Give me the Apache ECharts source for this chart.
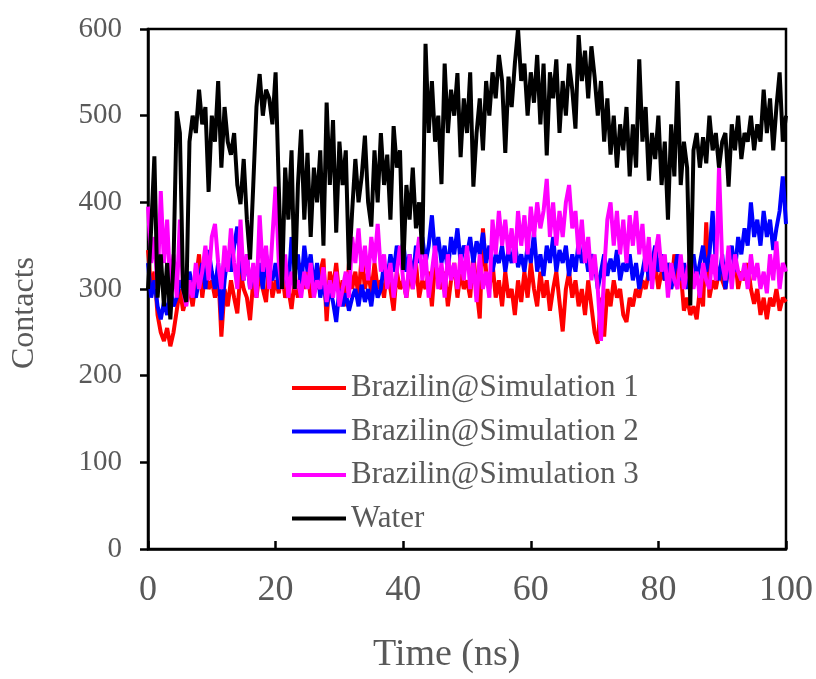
<!DOCTYPE html>
<html>
<head>
<meta charset="utf-8">
<script src="https://cdn.jsdelivr.net/npm/echarts@6/dist/echarts.min.js"></script>
<style>html,body{margin:0;padding:0;background:#fff;}#c{width:816px;height:679px;}</style>
</head>
<body>
<div id="c"></div>
<script>
const timeStep = 0.5; // ns between samples, t = 0 .. 100
const seriesNames = ['Brazilin@Simulation 1', 'Brazilin@Simulation 2', 'Brazilin@Simulation 3', 'Water'];
const xTicks = [0, 20, 40, 60, 80, 100];
const yTicks = [0, 100, 200, 300, 400, 500, 600];
const xTitle = 'Time (ns)';
const yTitle = 'Contacts';

const sim1 = [
345,300,320,270,250,240,255,234,250,275,
300,275,290,300,280,310,340,290,320,300,
310,290,320,245,300,280,310,290,272,320,
300,290,264,310,290,320,300,285,330,290,
310,295,320,290,300,277,310,290,330,300,
320,290,310,300,320,335,263,320,300,330,
290,310,280,330,300,320,290,340,300,320,
295,330,300,310,290,325,300,275,320,300,
310,290,320,300,330,290,310,300,320,280,
330,310,300,320,280,310,330,290,320,300,
310,290,340,300,266,370,320,300,330,290,
310,280,320,290,300,270,310,285,320,290,
330,300,280,320,290,310,275,300,320,285,
251,300,320,290,310,280,300,270,310,280,
250,237,290,245,300,280,310,290,300,270,
262,290,280,300,290,310,300,320,310,330,
300,320,310,330,300,340,310,320,275,290,
270,280,265,300,280,377,290,310,300,320,
310,300,330,310,340,300,320,310,330,300,
283,300,270,290,265,290,280,300,275,290,
285];

const sim2 = [
330,290,310,280,265,285,270,300,280,290,
310,300,290,320,300,290,310,330,300,345,
320,300,330,264,310,340,320,350,372,330,
310,340,300,320,310,330,300,340,320,310,
330,300,340,320,300,360,320,340,300,350,
320,340,300,330,290,310,280,300,285,262,
300,280,295,275,290,300,280,305,285,300,
280,310,290,300,330,310,340,320,350,330,
355,320,340,310,350,330,360,330,350,385,
340,360,330,350,320,360,340,370,330,350,
340,360,330,355,340,365,330,350,320,340,
330,350,320,345,330,355,325,340,320,350,
330,365,320,340,315,350,330,360,320,345,
330,350,315,340,320,355,330,345,320,340,
330,300,320,340,315,335,320,345,310,330,
320,340,310,330,300,320,340,310,330,350,
320,340,310,330,300,320,340,310,330,300,
320,340,310,330,350,320,340,390,330,310,
340,300,330,350,320,360,340,370,350,400,
360,380,350,390,360,380,345,370,390,430,
375];

const sim3 = [
395,330,360,300,413,330,380,300,340,290,
380,300,280,310,290,330,300,320,350,310,
360,375,330,300,350,320,370,330,300,380,
310,340,300,330,290,385,320,350,300,360,
418,330,300,340,290,320,300,310,290,320,
300,330,290,310,300,325,285,310,290,320,
280,300,320,290,360,330,370,320,350,310,
360,330,375,320,340,300,330,290,320,350,
310,290,340,300,330,360,310,340,290,320,
350,300,330,290,340,310,330,300,340,310,
350,300,330,285,340,300,320,290,380,340,
390,350,380,340,370,330,390,350,385,340,
395,360,400,370,390,427,360,400,350,390,
360,400,420,370,390,340,380,330,360,310,
340,300,240,320,380,400,350,390,340,380,
330,385,350,390,340,375,320,360,300,340,
363,320,340,290,330,310,300,340,300,320,
340,300,320,290,330,310,300,340,310,440,
330,310,350,300,340,320,310,330,300,340,
310,330,300,320,295,340,310,355,300,330,
320];

const water = [
300,370,453,290,340,280,330,265,330,505,
480,300,285,470,500,480,530,490,510,412,
500,470,540,440,510,470,455,480,420,398,
450,380,334,420,510,548,500,530,520,490,
550,418,300,440,380,460,300,420,484,380,
457,360,440,400,460,350,515,420,495,365,
470,420,460,322,390,450,400,430,477,400,
372,460,400,480,420,455,380,488,440,460,
322,420,380,440,370,400,340,583,480,540,
470,500,421,560,480,530,500,549,452,520,
480,550,418,480,520,460,540,500,550,520,
570,540,457,545,510,560,600,540,560,500,
550,515,570,490,560,454,550,520,565,480,
540,500,560,530,485,593,540,575,520,580,
545,500,540,470,520,455,500,440,490,460,
510,430,490,440,565,470,510,425,480,450,
500,420,470,380,490,430,540,420,470,440,
281,460,480,440,475,445,500,460,480,440,
470,480,418,490,460,500,450,480,470,500,
460,490,470,530,480,520,460,510,550,470,
500];

const colors = ['#ff0000', '#0000ff', '#ff00ff', '#000000'];
const FONT = '"Liberation Serif", "Times New Roman", serif';
const GREY = '#595959';

function pairs(vals) {
  return vals.map((v, i) => [i * timeStep, v]);
}

const chart = echarts.init(document.getElementById('c'));
const allData = [sim1, sim2, sim3, water];

chart.setOption({
  animation: false,
  backgroundColor: '#fff',
  grid: {
    left: 148, right: 27, top: 29, bottom: 130,
    show: true, borderColor: '#000', borderWidth: 2.5, containLabel: false
  },
  legend: {
    orient: 'vertical',
    left: 287, top: 365,
    icon: 'rect',
    itemWidth: 54, itemHeight: 4,
    itemGap: 7.5,
    data: seriesNames,
    textStyle: { fontFamily: FONT, fontSize: 31, color: GREY, lineHeight: 36 }
  },
  graphic: [
    {
      type: 'text', left: 373, top: 636, silent: true,
      style: { text: xTitle, font: '38px ' + FONT, fill: GREY }
    },
    {
      type: 'text', x: 25, y: 313, rotation: Math.PI / 2, silent: true,
      style: { text: yTitle, font: '32px ' + FONT, fill: GREY, align: 'center', verticalAlign: 'middle' }
    }
  ],
  xAxis: {
    type: 'value', min: 0, max: 100, interval: 20,
    axisLine: { show: true, lineStyle: { color: '#000', width: 2.5 } },
    axisTick: { show: true, inside: true, length: 8, lineStyle: { color: '#000', width: 2.5 } },
    axisLabel: {
      fontFamily: FONT, fontSize: 36, color: GREY, margin: 24,
      formatter: v => (xTicks.indexOf(v) >= 0 ? String(v) : '')
    },
    splitLine: { show: false }
  },
  yAxis: {
    type: 'value', min: 0, max: 600, interval: 100,
    axisLine: { show: true, lineStyle: { color: '#000', width: 2.5 } },
    axisTick: { show: true, inside: false, length: 8, lineStyle: { color: '#000', width: 2.5 } },
    axisLabel: {
      fontFamily: FONT, fontSize: 29, color: GREY, margin: 26,
      formatter: v => (yTicks.indexOf(v) >= 0 ? String(v) : '')
    },
    splitLine: { show: false }
  },
  series: seriesNames.map((name, k) => ({
    name: name,
    type: 'line',
    data: pairs(allData[k]),
    showSymbol: false,
    symbol: 'none',
    itemStyle: { color: colors[k] },
    lineStyle: { color: colors[k], width: 4 },
    z: 2 + k
  }))
});
</script>
</body>
</html>
